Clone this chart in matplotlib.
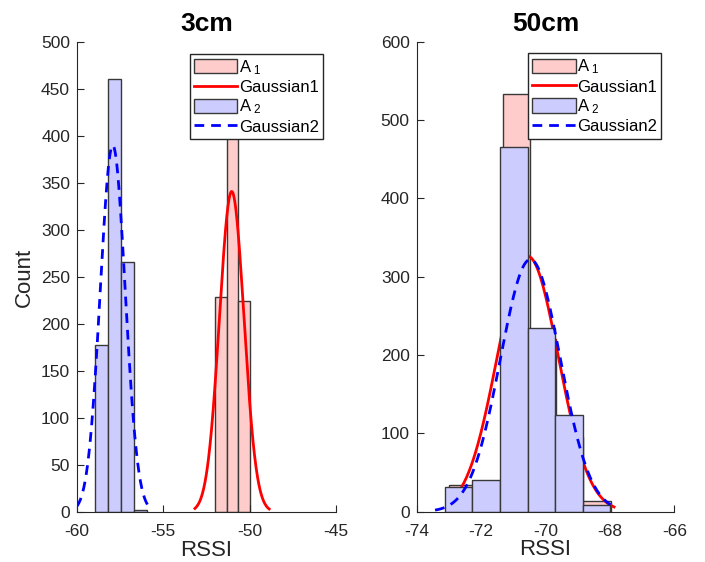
import numpy as np
import matplotlib
matplotlib.use("Agg")
import matplotlib.pyplot as plt

plt.rcParams['font.family'] = ['Liberation Sans', 'DejaVu Sans']
plt.rcParams['mathtext.fontset'] = 'custom'
plt.rcParams['mathtext.rm'] = 'Liberation Sans'
plt.rcParams['mathtext.it'] = 'Liberation Sans'
plt.rcParams['mathtext.default'] = 'regular'
plt.rcParams['axes.unicode_minus'] = False

# ---------------- data ----------------
titles = ["3cm", "50cm"]

# 3cm panel
a1_edges_3 = [-52.01, -51.34, -50.66, -49.98]
a1_counts_3 = [229, 440, 225]
a2_edges_3 = [-58.98, -58.225, -57.47, -56.715, -55.96]
a2_counts_3 = [178, 461, 266, 2]
g1_params_3 = dict(mu=-51.04, sigma=0.71, peak=341, xmin=-53.17, xmax=-48.87)
g2_params_3 = dict(mu=-57.93, sigma=0.72, peak=390, xmin=-60.02, xmax=-55.87)

# 50cm panel
a1_edges_50 = [-73.0, -72.165, -71.33, -70.495, -69.66, -68.82, -67.98]
a1_counts_50 = [34, 38, 533, 220, 96, 14]
a2_edges_50 = [-73.12, -72.27, -71.41, -70.55, -69.70, -68.84, -68.0]
a2_counts_50 = [32, 40, 466, 234, 124, 8]
g1_params_50 = dict(mu=-70.55, sigma=0.95, peak=326, xmin=-73.0, xmax=-67.87)
g2_params_50 = dict(mu=-70.47, sigma=0.93, peak=322, xmin=-73.43, xmax=-67.98)

xticks_3 = [-60, -55, -50, -45]
yticks_3 = list(range(0, 501, 50))
xticks_50 = [-74, -72, -70, -68, -66]
yticks_50 = list(range(0, 601, 100))

# ---------------- style ----------------
red_face = (1.0, 0.8, 0.8)
blue_face = (0.8, 0.8, 1.0)
edge_col = (0.22, 0.22, 0.22)
axis_col = (0.15, 0.15, 0.15)

fig = plt.figure(figsize=(7.05, 5.62), dpi=100)

ax_rects = [
    [77 / 705, 1 - 512 / 562, 259 / 705, 470 / 562],
    [416.7 / 705, 1 - 511.7 / 562, 257.6 / 705, 470 / 562],
]


def gauss(p):
    x = np.linspace(p['xmin'], p['xmax'], 300)
    return x, p['peak'] * np.exp(-0.5 * ((x - p['mu']) / p['sigma']) ** 2)


def draw_hist(ax, edges, counts, face, label, z):
    edges = np.asarray(edges)
    widths = np.diff(edges)
    return ax.bar(edges[:-1], counts, width=widths, align='edge',
                  color=face, edgecolor=edge_col, linewidth=1.0, label=label,
                  zorder=z)


panels = [
    (a1_edges_3, a1_counts_3, a2_edges_3, a2_counts_3, g1_params_3, g2_params_3,
     (-60, -45), (0, 500), xticks_3, yticks_3),
    (a1_edges_50, a1_counts_50, a2_edges_50, a2_counts_50, g1_params_50, g2_params_50,
     (-74, -66), (0, 600), xticks_50, yticks_50),
]

for i, (e1, c1, e2, c2, g1, g2, xl, yl, xt, yt) in enumerate(panels):
    ax = fig.add_axes(ax_rects[i])
    h1 = draw_hist(ax, e1, c1, red_face, r'A$_1$', 1.0)
    x, y = gauss(g1)
    h2, = ax.plot(x, y, color='red', lw=2.0, label='Gaussian1', zorder=1.5)
    h3 = draw_hist(ax, e2, c2, blue_face, r'A$_2$', 2.0)
    x, y = gauss(g2)
    h4, = ax.plot(x, y, color='blue', lw=2.0, ls=(0, (3.5, 2.5)),
                  label='Gaussian2', zorder=2.5)

    ax.set_xlim(*xl)
    ax.set_ylim(*yl)
    ax.set_xticks(xt)
    ax.set_yticks(yt)
    ax.spines['top'].set_visible(False)
    ax.spines['right'].set_visible(False)
    for s in ('left', 'bottom'):
        ax.spines[s].set_color(axis_col)
        ax.spines[s].set_linewidth(0.8)
        ax.spines[s].set_zorder(3)
    ax.tick_params(direction='in', length=5, width=0.8, colors=axis_col,
                   labelsize=12.5)
    ax.tick_params(axis='x', pad=9)
    ax.tick_params(axis='y', pad=5)
    ax.set_xlabel('RSSI', fontsize=16, color=axis_col, labelpad=0)
    if i == 0:
        ax.set_ylabel('Count', fontsize=16, color=axis_col, labelpad=4)
    ax.set_title(titles[i], fontsize=19, fontweight='bold', pad=8)

    leg = ax.legend([h1, h2, h3, h4],
                    [r'A$_{\ 1}$', 'Gaussian1', r'A$_{\ 2}$', 'Gaussian2'],
                    loc='upper right', bbox_to_anchor=(0.95, 0.975),
                    fontsize=12, frameon=True, fancybox=False,
                    borderpad=0.25, labelspacing=0.15, handlelength=2.6,
                    handletextpad=0.1, borderaxespad=0.0, handleheight=0.95)
    leg.get_frame().set_edgecolor(axis_col)
    leg.get_frame().set_linewidth(1.0)
    leg.get_frame().set_alpha(1.0)
    leg.set_zorder(5)

fig.savefig('out.png', dpi=100)
